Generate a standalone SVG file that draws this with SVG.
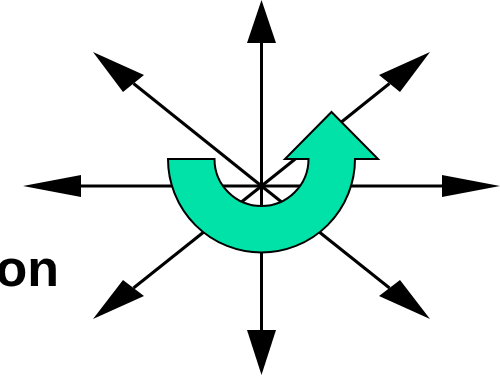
<svg xmlns="http://www.w3.org/2000/svg" width="500" height="376" viewBox="0 0 500 376">
<style>
.ln{stroke:#000;stroke-width:3;fill:none}
.hd{fill:#000;stroke:none}
.lbl{font-family:"Liberation Sans",Arial,sans-serif;font-weight:bold;font-size:52px;fill:#000}
</style>
<rect width="500" height="376" fill="#fff"/>
<g id="connectors">
<line class="ln" x1="261.5" y1="43" x2="261.5" y2="330"/>
<line class="ln" x1="80" y1="186" x2="443" y2="186"/>
<line class="ln" x1="261.5" y1="186" x2="133.5" y2="83.5"/>
<line class="ln" x1="261.5" y1="186" x2="389.5" y2="83.5"/>
<line class="ln" x1="261.5" y1="186" x2="133.5" y2="288"/>
<line class="ln" x1="261.5" y1="186" x2="389.5" y2="288"/>
<polygon class="hd" points="261.5,0 247,43 276,43"/>
<polygon class="hd" points="261.5,375 247,330 276,330"/>
<polygon class="hd" points="23,186 81,175 81,197"/>
<polygon class="hd" points="500,186 442,175 442,197"/>
<polygon class="hd" points="93,52 123,92 144,75"/>
<polygon class="hd" points="430,52 379,75 400,92"/>
<polygon class="hd" points="93,319 123,280 144,296"/>
<polygon class="hd" points="430,319 379,296 400,280"/>
</g>
<g id="curved-arrow">
<path d="M168,159 L214.5,159 A47,47 0 0 0 308.5,159 L285,159 L331.5,112 L378,159 L355,159 A93.5,93.5 0 0 1 168,159 Z" fill="#00E2A8" stroke="#000" stroke-width="2" stroke-linejoin="miter"/>
</g>
<g id="label">
<text class="lbl" x="59" y="286" text-anchor="end">on</text>
</g>
</svg>
